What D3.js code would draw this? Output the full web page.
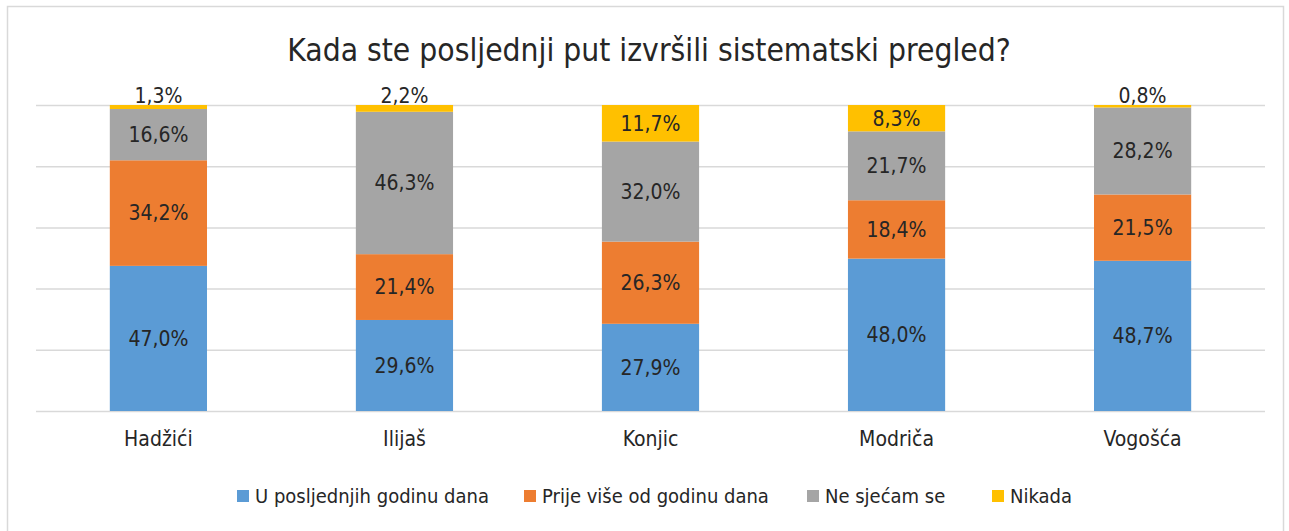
<!DOCTYPE html>
<html>
<head>
<meta charset="utf-8">
<script src="https://cdn.jsdelivr.net/npm/d3@7"></script>
<style>
  body { margin: 0; background: #fff; }
  text { font-family: "Liberation Sans Narrow", "DejaVu Sans Condensed", sans-serif; fill: #262626; }
</style>
</head>
<body>
<script>
// data
const categories = ["Hadžići", "Ilijaš", "Konjic", "Modriča", "Vogošća"];
const seriesNames = ["U posljednjih godinu dana", "Prije više od godinu dana", "Ne sjećam se", "Nikada"];
const lastYear   = [47.0, 29.6, 27.9, 48.0, 48.7];
const moreThan   = [34.2, 21.4, 26.3, 18.4, 21.5];
const dontRecall = [16.6, 46.3, 32.0, 21.7, 28.2];
const never      = [1.3, 2.2, 11.7, 8.3, 0.8];
const colors = ["#5B9BD5", "#ED7D31", "#A5A5A5", "#FFC000"];

const width = 1289, height = 531;
const margin = {left: 36, right: 24, top: 105, bottom: 120};
const innerW = width - margin.left - margin.right;
const innerH = height - margin.top - margin.bottom;

const svg = d3.select("body").append("svg")
    .attr("width", width)
    .attr("height", height);

// chart frame
svg.append("rect")
    .attr("x", 7.5).attr("y", 6.5)
    .attr("width", 1276).attr("height", 560)
    .attr("fill", "none")
    .attr("stroke", "#d9d9d9")
    .attr("stroke-width", 1.5);

svg.append("text")
    .attr("x", 649)
    .attr("y", 61)
    .attr("text-anchor", "middle")
    .attr("font-size", "31.5px")
    .text("Kada ste posljednji put izvršili sistematski pregled?");

const g = svg.append("g")
    .attr("transform", "translate(" + margin.left + "," + margin.top + ")");

const table = categories.map((c, i) => ({
    cat: c, s0: lastYear[i], s1: moreThan[i], s2: dontRecall[i], s3: never[i]
}));
const keys = ["s0", "s1", "s2", "s3"];
const stacked = d3.stack().keys(keys).offset(d3.stackOffsetExpand)(table);

const x = d3.scaleBand()
    .domain(categories)
    .range([0, innerW])
    .paddingInner(0.605)
    .paddingOuter(0.3);

const y = d3.scaleLinear()
    .domain([0, 1])
    .range([innerH, 0]);

// gridlines
g.append("g")
    .attr("class", "grid")
    .call(d3.axisLeft(y).ticks(5).tickSize(-innerW).tickFormat(""))
    .call(s => s.select(".domain").remove())
    .call(s => s.selectAll("line").attr("stroke", "#d9d9d9").attr("stroke-width", 1.5));

const layers = g.selectAll(".layer")
    .data(stacked)
    .enter().append("g")
        .attr("class", "layer")
        .attr("fill", (d, i) => colors[i]);

layers.selectAll("rect")
    .data(d => d)
    .enter().append("rect")
        .attr("x", d => x(d.data.cat))
        .attr("y", d => y(d[1]))
        .attr("width", x.bandwidth())
        .attr("height", d => y(d[0]) - y(d[1]));

// value labels
layers.selectAll(".val")
    .data((d, i) => d.map(v => ({v: v, key: d.key})))
    .enter().append("text")
        .attr("class", "val")
        .attr("x", d => x(d.v.data.cat) + x.bandwidth() / 2)
        .attr("y", d => {
            const h = y(d.v[0]) - y(d.v[1]);
            return h < 20 ? y(d.v[1]) - 9 : (y(d.v[0]) + y(d.v[1])) / 2;
        })
        .attr("dy", "0.35em")
        .attr("text-anchor", "middle")
        .attr("font-size", "21px")
        .text(d => d.v.data[d.key].toFixed(1).replace(".", ",") + "%");

// category axis
const xAxis = g.append("g")
    .attr("transform", "translate(0," + innerH + ")")
    .call(d3.axisBottom(x).tickSize(0).tickPadding(20));
xAxis.select(".domain").remove();
xAxis.selectAll("text")
    .attr("font-size", "21px")
    .attr("font-family", null)
    .style("fill", "#262626");

// legend
const legendX = [237, 524, 807, 992];
const legend = svg.append("g")
    .selectAll("g")
    .data(seriesNames)
    .enter().append("g")
        .attr("transform", (d, i) => "translate(" + legendX[i] + ",490)");
legend.append("rect")
    .attr("width", 12).attr("height", 12)
    .attr("fill", (d, i) => colors[i]);
legend.append("text")
    .attr("x", 18)
    .attr("y", 6)
    .attr("dy", "0.35em")
    .attr("font-size", "20px")
    .text(d => d);
</script>
</body>
</html>
